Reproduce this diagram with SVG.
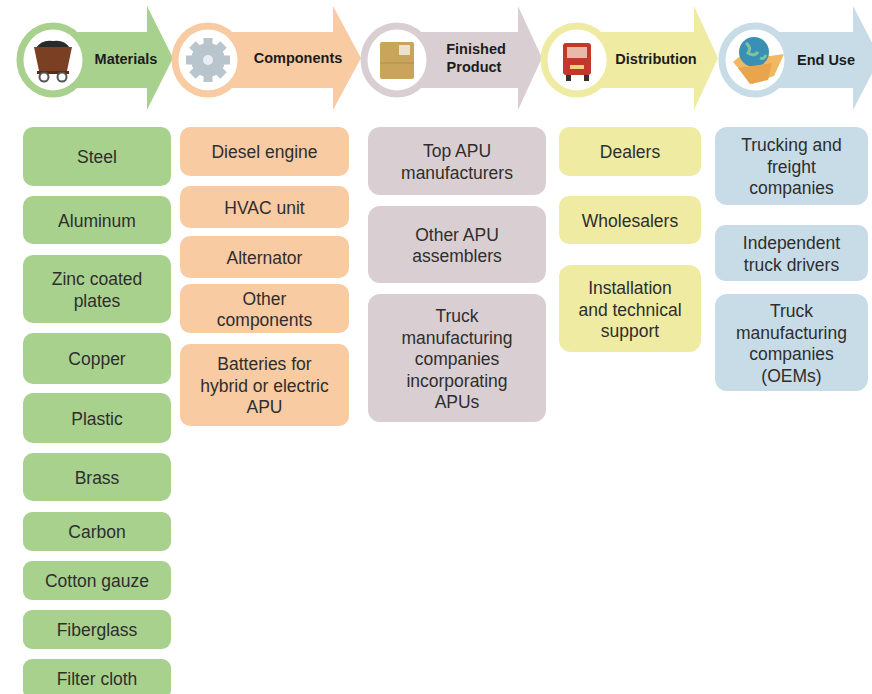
<svg xmlns="http://www.w3.org/2000/svg" width="872" height="694" viewBox="0 0 872 694">
<style>
.t{font-family:"Liberation Sans",Arial,sans-serif;font-size:17.5px;fill:#2e2e2e;text-anchor:middle}
.h{font-family:"Liberation Sans",Arial,sans-serif;font-size:14.5px;font-weight:bold;fill:#1c1c1c;text-anchor:middle}
.g{fill:#a9d18e}.o{fill:#f8cba2}.m{fill:#d9cfd2}.y{fill:#efeba3}.b{fill:#c7dce7}
.ring{fill:#fff;stroke-width:7}
</style>
<rect width="872" height="694" fill="#fff"/>
<g id="connectors">
<polygon class="g" points="53,32 147,32 147,6 173,58 147,110 147,88 53,88"/>
<polygon class="o" points="208,32 333,32 333,6 361,58 333,110 333,88 208,88"/>
<polygon class="m" points="397,32 518,32 518,6 542,58 518,110 518,88 397,88"/>
<polygon class="y" points="577,32 694,32 694,6 718,58 694,110 694,88 577,88"/>
<polygon class="b" points="755,32 853,32 853,6 880,58 853,110 853,88 755,88"/>
</g>
<g id="stage-materials">
<ellipse class="ring" cx="53" cy="60" rx="33" ry="34" stroke="#a9d18e"/>
<path d="M36,48 Q42,39 53,41 Q64,39 70,48 Z" fill="#2a2a2a"/>
<polygon points="34,47 72,47 67,71 39,71" fill="#7b3f24"/>
<rect x="37" y="71" width="32" height="3" fill="#5a2c18"/>
<circle cx="44" cy="77" r="4.5" fill="#fff" stroke="#555" stroke-width="2"/>
<circle cx="62" cy="77" r="4.5" fill="#fff" stroke="#555" stroke-width="2"/>
<text class="h" x="126" y="64">Materials</text>
</g>
<g id="stage-components">
<ellipse class="ring" cx="208" cy="60" rx="33" ry="34" stroke="#f8cba2"/>
<g fill="#b9c5cc" transform="translate(208,60)">
<circle r="17"/>
<rect x="-4.5" y="-22" width="9" height="44"/>
<rect x="-4.5" y="-22" width="9" height="44" transform="rotate(45)"/>
<rect x="-4.5" y="-22" width="9" height="44" transform="rotate(90)"/>
<rect x="-4.5" y="-22" width="9" height="44" transform="rotate(135)"/>
<circle r="5" fill="#e8eef1"/>
</g>
<text class="h" x="298" y="63">Components</text>
</g>
<g id="stage-finished">
<ellipse class="ring" cx="397" cy="60" rx="33" ry="34" stroke="#d9cfd2"/>
<rect x="380" y="42" width="34" height="37" rx="2" fill="#c9a55c"/>
<rect x="399" y="45" width="11" height="10" fill="#e9e2cf"/>
<line x1="380" y1="63" x2="414" y2="63" stroke="#b08c45" stroke-width="1"/>
<text class="h" x="476" y="54">Finished</text>
<text class="h" x="474" y="72">Product</text>
</g>
<g id="stage-distribution">
<ellipse class="ring" cx="577" cy="60" rx="33" ry="34" stroke="#efeba3"/>
<rect x="563" y="43" width="28" height="32" rx="3" fill="#c0392b"/>
<rect x="567" y="47" width="20" height="11" fill="#e8b8a8"/>
<rect x="566" y="75" width="5" height="6" fill="#333"/>
<rect x="584" y="75" width="5" height="6" fill="#333"/>
<rect x="570" y="65" width="14" height="4" fill="#f2d27a"/>
<text class="h" x="656" y="64">Distribution</text>
</g>
<g id="stage-enduse">
<ellipse class="ring" cx="755" cy="60" rx="33" ry="34" stroke="#c7dce7"/>
<polygon points="733,62 745,52 770,56 784,54 774,76 752,84" fill="#f0b860"/>
<circle cx="754" cy="52" r="15" fill="#3a8fb4"/>
<path d="M746,43 q6,5 2,10 q6,4 10,-1 M760,58 q4,2 6,-3" fill="none" stroke="#7cc3a0" stroke-width="3"/>
<polygon points="738,68 772,63 768,80 750,84" fill="#e9a54e"/>
<text class="h" x="826" y="65">End Use</text>
</g>
<g id="col-materials">
<rect class="g" x="23" y="127" width="148" height="59" rx="10"/><text class="t" x="97" y="163">Steel</text>
<rect class="g" x="23" y="196" width="148" height="48" rx="10"/><text class="t" x="97" y="226.5">Aluminum</text>
<rect class="g" x="23" y="255" width="148" height="68" rx="10"/><text class="t" x="97" y="285">Zinc coated</text><text class="t" x="97" y="306.5">plates</text>
<rect class="g" x="23" y="333" width="148" height="51" rx="10"/><text class="t" x="97" y="365">Copper</text>
<rect class="g" x="23" y="393" width="148" height="50" rx="10"/><text class="t" x="97" y="424.5">Plastic</text>
<rect class="g" x="23" y="453" width="148" height="48" rx="10"/><text class="t" x="97" y="483.5">Brass</text>
<rect class="g" x="23" y="512" width="148" height="39" rx="9"/><text class="t" x="97" y="538">Carbon</text>
<rect class="g" x="23" y="561" width="148" height="39" rx="9"/><text class="t" x="97" y="587">Cotton gauze</text>
<rect class="g" x="23" y="610" width="148" height="39" rx="9"/><text class="t" x="97" y="636">Fiberglass</text>
<rect class="g" x="23" y="659" width="148" height="40" rx="9"/><text class="t" x="97" y="685">Filter cloth</text>
</g>
<g id="col-components">
<rect class="o" x="180" y="127" width="169" height="49" rx="10"/><text class="t" x="264.5" y="158">Diesel engine</text>
<rect class="o" x="180" y="186" width="169" height="42" rx="10"/><text class="t" x="264.5" y="213.5">HVAC unit</text>
<rect class="o" x="180" y="236" width="169" height="42" rx="10"/><text class="t" x="264.5" y="263.5">Alternator</text>
<rect class="o" x="180" y="284" width="169" height="49" rx="10"/><text class="t" x="264.5" y="304.5">Other</text><text class="t" x="264.5" y="326">components</text>
<rect class="o" x="180" y="344" width="169" height="82" rx="10"/><text class="t" x="264.5" y="370">Batteries for</text><text class="t" x="264.5" y="391.5">hybrid or electric</text><text class="t" x="264.5" y="413">APU</text>
</g>
<g id="col-finished">
<rect class="m" x="368" y="127" width="178" height="68" rx="12"/><text class="t" x="457" y="157">Top APU</text><text class="t" x="457" y="178.5">manufacturers</text>
<rect class="m" x="368" y="206" width="178" height="77" rx="12"/><text class="t" x="457" y="240.5">Other APU</text><text class="t" x="457" y="262">assemblers</text>
<rect class="m" x="368" y="294" width="178" height="128" rx="12"/><text class="t" x="457" y="322">Truck</text><text class="t" x="457" y="343.5">manufacturing</text><text class="t" x="457" y="365">companies</text><text class="t" x="457" y="386.5">incorporating</text><text class="t" x="457" y="408">APUs</text>
</g>
<g id="col-distribution">
<rect class="y" x="559" y="127" width="142" height="49" rx="10"/><text class="t" x="630" y="158">Dealers</text>
<rect class="y" x="559" y="196" width="142" height="48" rx="10"/><text class="t" x="630" y="226.5">Wholesalers</text>
<rect class="y" x="559" y="265" width="142" height="87" rx="12"/><text class="t" x="630" y="294">Installation</text><text class="t" x="630" y="315.5">and technical</text><text class="t" x="630" y="337">support</text>
</g>
<g id="col-enduse">
<rect class="b" x="715" y="127" width="153" height="78" rx="12"/><text class="t" x="791.5" y="151">Trucking and</text><text class="t" x="791.5" y="172.5">freight</text><text class="t" x="791.5" y="194">companies</text>
<rect class="b" x="715" y="225" width="153" height="56" rx="10"/><text class="t" x="791.5" y="249">Independent</text><text class="t" x="791.5" y="270.5">truck drivers</text>
<rect class="b" x="715" y="294" width="153" height="97" rx="12"/><text class="t" x="791.5" y="317">Truck</text><text class="t" x="791.5" y="338.5">manufacturing</text><text class="t" x="791.5" y="360">companies</text><text class="t" x="791.5" y="381.5">(OEMs)</text>
</g>
</svg>
